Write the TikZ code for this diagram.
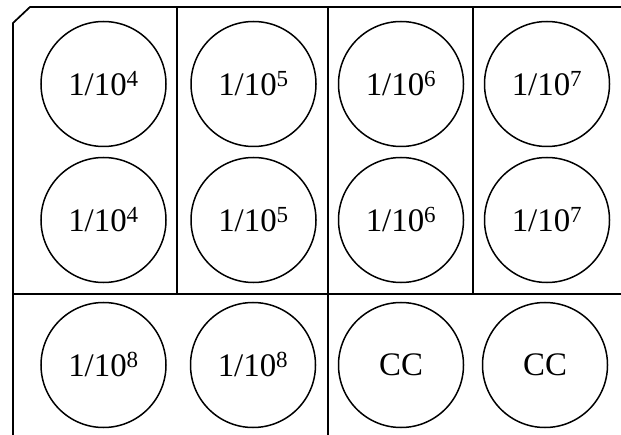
\documentclass[tikz,border=0pt]{standalone}
\usepackage{fontspec}
\setmainfont{Liberation Serif}
\tikzset{
  well/.style={circle, draw, line width=1.5bp, inner sep=0pt, minimum size=125bp,
    font=\fontsize{33}{36}\selectfont},
  frame/.style={line width=1.7bp}
}
\newcommand{\dil}[1]{1/10\textsuperscript{#1}}
\begin{document}
\begin{tikzpicture}[x=1bp, y=-1bp]
\useasboundingbox (0,0) rectangle (621,435);
% plate frame
\draw[frame] (13,435) -- (13,23) -- (30,7) -- (621,7);
\draw[frame] (13,294) -- (621,294);
\draw[frame] (177,7) -- (177,294);
\draw[frame] (328,7) -- (328,435);
\draw[frame] (473,7) -- (473,294);
% wells
\node[well] (a1) at (103.5,84) {\dil{4}};
\node[well] (b1) at (253.5,84) {\dil{5}};
\node[well] (c1) at (401,84) {\dil{6}};
\node[well] (d1) at (547,84) {\dil{7}};
\node[well] (a2) at (103.5,220) {\dil{4}};
\node[well] (b2) at (253.5,220) {\dil{5}};
\node[well] (c2) at (401,220) {\dil{6}};
\node[well] (d2) at (547,220) {\dil{7}};
\node[well] (a3) at (103.5,365) {\dil{8}};
\node[well] (b3) at (253,365) {\dil{8}};
\node[well] (c3) at (401,365) {CC};
\node[well] (d3) at (545,365) {CC};
\end{tikzpicture}
\end{document}
